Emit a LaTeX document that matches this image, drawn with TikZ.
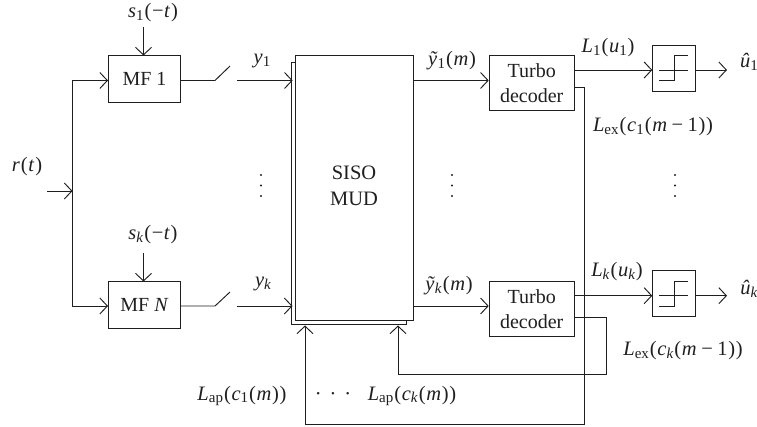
\documentclass[tikz,border=0pt]{standalone}
\usepackage{fontspec}
\setmainfont{Liberation Serif}
\usetikzlibrary{arrows.meta}
\newcommand\vi[1]{\textit{#1}}
\newcommand\sbs[1]{\raisebox{-.3ex}{\fontsize{15}{15}\selectfont #1}}
\newcommand\minus{\hspace{4.5pt}\symbol{"2212}\hspace{4.5pt}}
\newcommand\umin{\symbol{"2212}\kern.5pt}
\newcommand\lpr{\kern1pt(\kern.7pt}
\newcommand\rpr{\kern.7pt)}
\tikzset{
  x=1pt,y=-1pt,
  every node/.style={font=\fontsize{20}{24}\selectfont,inner sep=0pt},
  wire/.style={line width=.95pt,draw=black!88},
  arr/.style={wire,-{Straight Barb[length=7.5pt,width=16pt,line width=.95pt]}},
  blk/.style={draw=black!88,line width=.95pt,fill=white,align=center,anchor=north west,text=black!88},
  lab/.style={text=black!88,font=\fontsize{20.5}{24}\selectfont}
}
\begin{document}
\begin{tikzpicture}
\useasboundingbox (0,0) rectangle (757,427);
% blocks
\node[blk,minimum width=72pt,minimum height=46.5pt] (mf1) at (108,55.5) {\raisebox{-1.5pt}{MF 1}};
\node[blk,minimum width=72pt,minimum height=46.5pt] (mfn) at (108,281.5) {\raisebox{-1.5pt}{MF \vi{N}}};
\node[blk,minimum width=114.5pt,minimum height=262.5pt] (back) at (291,62) {};
\node[blk,minimum width=118.5pt,minimum height=264.5pt] (mud) at (294.5,55.5) {};
\node[lab,align=center] (sisotext) at (354,186) {SISO\\[1.5pt]MUD};
\node[blk,minimum width=85pt,minimum height=54.5pt] (t1) at (488.7,55.5) {Turbo\\[1pt]decoder};
\node[blk,minimum width=85pt,minimum height=54.5pt] (tk) at (488.7,281) {Turbo\\[1pt]decoder};
\node[blk,minimum width=43pt,minimum height=46pt] (sg1) at (652.3,45) {};
\node[blk,minimum width=43pt,minimum height=46pt] (sgk) at (652.3,270.5) {};
% free ends
\coordinate (rin) at (47,191);
\coordinate (tr) at (72.5,191);
\coordinate (s1c) at (143.5,27);
\coordinate (skc) at (143.5,253);
\coordinate (sw1a) at (215,80.5);
\coordinate (sw1b) at (230,66);
\coordinate (sw1c) at (237,80.5);
\coordinate (swka) at (215,306);
\coordinate (swkb) at (230,292);
\coordinate (swkc) at (237,306);
\coordinate (o1) at (727,70);
\coordinate (ok) at (727,295.7);
% input
\draw[arr] (rin) -- (tr);
\draw[arr] (tr) |- (mf1.west|-sw1a);
\draw[arr] (tr) |- (mfn.west|-swka);
\draw[arr] (s1c) -- (mf1.north-|s1c);
\draw[arr] (skc) -- (mfn.north-|skc);
% switches
\draw[wire] (mf1.east|-sw1a) -- (sw1a) -- (sw1b);
\draw[wire] (mfn.east|-swka) -- (swka) -- (swkb);
\draw[arr,shorten >=1.8pt] (sw1c) -- (mud.west|-sw1c);
\draw[arr,shorten >=-1.5pt] (swkc) -- (back.west|-swkc);
% mud to decoders
\draw[arr] (mud.east|-sw1a) -- (t1.west|-sw1a);
\draw[arr] (mud.east|-swka) -- (tk.west|-swka);
% decoders to signs
\draw[arr] (t1.east|-o1) -- (sg1.west|-o1);
\draw[arr] (tk.east|-ok) -- (sgk.west|-ok);
\draw[arr] (sg1.east|-o1) -- (o1);
\draw[arr] (sgk.east|-ok) -- (ok);
% sign glyphs
\draw[wire] (659,70) -- (688,70) (659,80.5) -- (674,80.5) -- (674,55.5) -- (688,55.5);
\draw[wire] (659,295.7) -- (688,295.7) (659,306) -- (674,306) -- (674,281) -- (688,281);
% feedback
\draw[arr] (t1.east|-0,87.5) -- (584,87.5) -- (584,424) -- (305,424) -- (305,325.5);
\draw[arr] (tk.east|-0,317) -- (606,317) -- (606,374) -- (398,374) -- (398,325.5);
% labels
\node[lab] (l1) at (153,13) {\vi{s}\sbs{1}\lpr\umin\vi{t}\rpr};
\node[lab] (l2) at (153,235) {\vi{s}\sbs{\vi{k}}\lpr\umin\vi{t}\rpr};
\node[lab] (l3) at (27,167) {\vi{r}\lpr\vi{t}\rpr};
\node[lab] (l4) at (262,61) {\vi{y}\sbs{1}};
\node[lab] (l5) at (263,284) {\vi{y}\sbs{\vi{k}}};
\node[lab] (l6) at (452,61) {\vi{ỹ}\sbs{1}\lpr\vi{m}\rpr};
\node[lab] (l7) at (449,286) {\vi{ỹ}\sbs{\vi{k}}\lpr\vi{m}\rpr};
\node[lab] (l8) at (608,48) {\vi{L}\sbs{1}\lpr\vi{u}\sbs{1}\rpr};
\node[lab] (l9) at (617,272) {\vi{L}\sbs{\vi{k}}\lpr\vi{u}\sbs{\vi{k}}\rpr};
\node[lab] (l10) at (749,62) {\vi{û}\sbs{1}};
\node[lab] (l11) at (749,289) {\vi{û}\sbs{\vi{k}}};
\node[lab] (l12) at (653,127) {\vi{L}\sbs{ex}\lpr\vi{c}\sbs{1}\lpr\vi{m}\minus 1\rpr\rpr};
\node[lab] (l13) at (683,351) {\vi{L}\sbs{ex}\lpr\vi{c}\sbs{\vi{k}}\lpr\vi{m}\minus 1\rpr\rpr};
\node[lab] (l14) at (242,396) {\vi{L}\sbs{ap}\lpr\vi{c}\sbs{1}\lpr\vi{m}\rpr\rpr};
\node[lab] (l15) at (412,396) {\vi{L}\sbs{ap}\lpr\vi{c}\sbs{\vi{k}}\lpr\vi{m}\rpr\rpr};
\node[lab] (l16) at (333,396) {\textperiodcentered\hspace{8pt}\textperiodcentered\hspace{8pt}\textperiodcentered};
% vertical ellipses
\foreach \xx in {261,452,675}
  \foreach \yy in {175,185.5,196}
    \fill[black!88] (\xx,\yy) circle[radius=1.2pt];
\end{tikzpicture}
\end{document}
